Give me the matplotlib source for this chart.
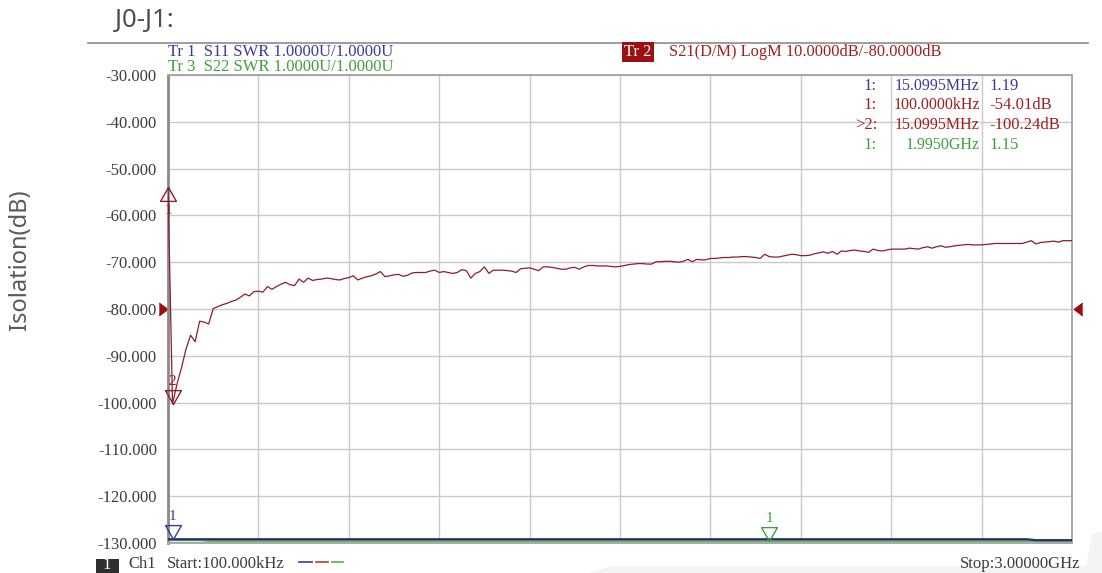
import numpy as np
import matplotlib
matplotlib.use('Agg')
import matplotlib.pyplot as plt
from matplotlib.lines import Line2D
from matplotlib.patches import Rectangle, Polygon
from matplotlib.transforms import offset_copy

W, H = 1102, 573

# sweep setup (MHz)
start_mhz = 0.1
stop_mhz = 3000.0
n_points = 201

# Tr 2 : S21 LogM (dB)
s21_db = [
    -54.01, -100.24, -96.0, -92.5, -88.5, -85.6, -87.0, -82.6, -82.8, -83.2,
    -79.9, -79.5, -79.1, -78.8, -78.4, -78.1, -77.5, -76.8, -77.2, -76.3,
    -76.2, -76.4, -75.2, -75.8, -75.2, -74.7, -74.3, -74.8, -75.0, -73.6,
    -74.3, -73.4, -73.9, -73.7, -73.6, -73.4, -73.5, -73.7, -73.8, -73.5,
    -73.3, -72.9, -73.8, -73.4, -73.1, -72.9, -72.5, -72.0, -73.1, -72.9,
    -72.7, -72.6, -73.0, -72.8, -72.3, -72.2, -72.2, -72.2, -71.9, -71.7,
    -72.2, -72.0, -72.2, -72.4, -72.2, -71.6, -71.8, -73.4, -72.4, -72.0,
    -71.0, -72.4, -71.7, -71.7, -71.7, -71.8, -71.9, -72.2, -71.4, -71.3,
    -71.2, -71.5, -71.8, -71.0, -71.0, -71.1, -71.3, -71.5, -71.5, -71.2,
    -71.1, -71.5, -71.0, -70.7, -70.7, -70.8, -70.8, -70.8, -70.9, -71.0,
    -70.9, -70.7, -70.5, -70.4, -70.3, -70.3, -70.4, -70.4, -69.9, -69.9,
    -69.8, -69.8, -69.9, -70.0, -69.8, -69.4, -69.9, -69.4, -69.5, -69.5,
    -69.2, -69.2, -69.1, -69.0, -69.0, -68.9, -68.9, -68.8, -68.8, -68.9,
    -69.0, -69.2, -68.3, -68.8, -68.9, -68.9, -68.7, -68.5, -68.3, -68.4,
    -68.6, -68.6, -68.5, -68.2, -68.0, -67.8, -68.1, -67.7, -68.3, -67.6,
    -67.7, -67.5, -67.4, -67.6, -67.7, -67.9, -67.2, -67.5, -67.6, -67.4,
    -67.2, -67.2, -67.2, -67.2, -67.0, -67.1, -67.2, -66.9, -66.7, -67.0,
    -66.7, -66.5, -66.8, -66.7, -66.5, -66.4, -66.3, -66.2, -66.3, -66.3,
    -66.3, -66.2, -66.1, -66.0, -66.0, -66.0, -66.0, -66.0, -66.0, -66.0,
    -65.7, -65.4, -66.1, -65.8, -65.7, -65.6, -65.5, -65.7, -65.4, -65.4,
    -65.4,
]

# Tr 1 / Tr 3 : SWR traces (flat near the bottom)
s11_freq = [0.1, 2850, 2880, 3000]
s11_swr = [1.08, 1.08, 1.06, 1.06]
s22_freq = [0.1, 110, 140, 3000]
s22_swr = [1.06, 1.06, 1.045, 1.045]

y_ticks = [-30, -40, -50, -60, -70, -80, -90, -100, -110, -120, -130]
ref_level = -80

# marker table
mk_labels = ['1:', '1:', '>2:', '1:']
mk_freqs = ['15.0995MHz', '100.0000kHz', '15.0995MHz', '1.9950GHz']
mk_vals = ['1.19', '-54.01dB', '-100.24dB', '1.15']

c_blue = '#3a3a9c'
c_red = '#a11d1d'
c_green = '#3f9f3f'
c_trace = '#8c1f26'
c_text = '#3c3c3c'
mk_colors = [c_blue, c_red, c_red, c_green]

plt.rcParams['font.family'] = ['Liberation Serif', 'DejaVu Serif']
vna_fs = 12

freq = np.linspace(start_mhz, stop_mhz, n_points)


def px(x, y):
    return x / W, 1 - y / H


fig = plt.figure(figsize=(W / 100, H / 100), dpi=100)

# light panel at the bottom right of the screenshot
fig.add_artist(Polygon([px(588, 573), px(612, 566), px(1086, 566), px(1092, 534),
                        px(1102, 532), px(1102, 573)], closed=True,
                       transform=fig.transFigure, fc='#f4f4f4', ec='none', zorder=0))

ax = fig.add_axes([168 / W, 1 - 543 / H, 904 / W, 468 / H])
ax.set_xlim(start_mhz, stop_mhz)
ax.set_ylim(-130, -30)
ax.set_xticks(np.linspace(start_mhz, stop_mhz, 11))
ax.set_yticks(y_ticks)
ax.set_yticklabels([f'{v:.3f}' for v in y_ticks])
ax.tick_params(length=0, labelbottom=False, pad=8, labelsize=vna_fs, labelcolor=c_text)
ax.grid(True, color='#c9c9c9', lw=1.0)
ax.set_axisbelow(True)
for side in ['top', 'right', 'bottom']:
    ax.spines[side].set_color('#a8a8a8')
    ax.spines[side].set_linewidth(1.4)
ax.spines['left'].set_color('#8a8a8a')
ax.spines['left'].set_linewidth(2.0)

ax.plot(freq, s21_db, color=c_trace, lw=0.9, zorder=3)

ax2 = ax.twinx()
ax2.set_ylim(1.0, 11.0)
ax2.set_yticks([])
for s in ax2.spines.values():
    s.set_visible(False)
ax2.plot(s22_freq, s22_swr, color='#62b862', lw=1.6, zorder=3)
ax2.plot(s11_freq, s11_swr, color='#2c2c6e', lw=1.6, zorder=4)

# triangle markers, apex on the point
tri_down = [(0, 0), (-0.57, 1), (0.57, 1), (0, 0)]
tri_up = [(0, 0), (-0.57, -1), (0.57, -1), (0, 0)]


def marker(a, x, y, verts, col, label, dy):
    a.plot([x], [y], marker=verts, ms=20, mfc='none', mec=col, mew=1.0,
           ls='none', clip_on=False, zorder=5)
    a.annotate(label, (x, y), xytext=(0, dy), textcoords='offset pixels',
               ha='center', va='center', color=col, fontsize=11, zorder=5)


marker(ax, freq[0], s21_db[0], tri_up, c_trace, '1', -23)
marker(ax, freq[1], s21_db[1], tri_down, c_trace, '2', 22)
marker(ax2, freq[1], np.interp(freq[1], s11_freq, s11_swr), tri_down, c_blue, '1', 23)
marker(ax2, 1995.0, np.interp(1995.0, s22_freq, s22_swr), tri_down, c_green, '1', 22)

# reference position arrows
ref_r = [(-0.67, -1), (0.67, 0), (-0.67, 1)]
ref_l = [(0.67, -1), (-0.67, 0), (0.67, 1)]
ax.plot([start_mhz], [ref_level], marker=ref_r, ms=9, color='#9b0d0d', ls='none',
        clip_on=False, transform=offset_copy(ax.transData, fig=fig, x=-5, units='dots'))
ax.plot([stop_mhz], [ref_level], marker=ref_l, ms=9, color='#9b0d0d', ls='none',
        clip_on=False, transform=offset_copy(ax.transData, fig=fig, x=6, units='dots'))

# titles and header
fig.text(*px(115, 20), 'J0-J1:', family='Noto Sans', fontsize=18.5, color='#4d4d4d',
         ha='left', va='center')
fig.add_artist(Line2D([88 / W, 1088 / W], [1 - 43 / H] * 2, color='#8c8c8c', lw=1.2))
fig.text(*px(20, 260), 'Isolation(dB)', family='Noto Sans', fontsize=17, color='#5a5a5a',
         rotation=90, ha='center', va='center')

fig.text(*px(168, 52), 'Tr 1  S11 SWR 1.0000U/1.0000U', color=c_blue, fontsize=vna_fs,
         ha='left', va='center')
fig.text(*px(168, 67), 'Tr 3  S22 SWR 1.0000U/1.0000U', color=c_green, fontsize=vna_fs,
         ha='left', va='center')
fig.text(*px(638, 52), 'Tr 2', color='white', fontsize=vna_fs, ha='center', va='center',
         bbox=dict(boxstyle='square,pad=0.12', fc='#9b1010', ec='none'))
fig.text(*px(669, 52), 'S21(D/M) LogM 10.0000dB/-80.0000dB', color=c_red, fontsize=11.8,
         ha='left', va='center')

for i, yy in enumerate([86, 105, 125, 145]):
    fig.text(*px(877, yy), mk_labels[i], color=mk_colors[i], fontsize=vna_fs,
             ha='right', va='center')
    fig.text(*px(980, yy), mk_freqs[i], color=mk_colors[i], fontsize=11.5,
             ha='right', va='center')
    fig.text(*px(989, yy), mk_vals[i], color=mk_colors[i], fontsize=vna_fs,
             ha='left', va='center')

# bottom status line
fig.add_artist(Rectangle(px(96, 573), 23 / W, 14 / H, transform=fig.transFigure,
                         fc='#2f2f2f', ec='none'))
fig.text(*px(107, 565), '1', color='white', fontsize=vna_fs, ha='center', va='center')
fig.text(*px(128, 564), 'Ch1', color=c_text, fontsize=vna_fs, ha='left', va='center')
fig.text(*px(167, 564), 'Start:100.000kHz', color=c_text, fontsize=vna_fs,
         ha='left', va='center')
for x0, x1, col in [(299, 312, '#4a4aa8'), (316, 328, '#c04a4a'), (332, 343, '#5cb85c')]:
    fig.add_artist(Line2D([x0 / W, x1 / W], [1 - 562 / H] * 2, color=col, lw=1.3))
fig.text(*px(1080, 564), 'Stop:3.00000GHz', color=c_text, fontsize=vna_fs,
         ha='right', va='center')

fig.savefig('out.png', dpi=100)
